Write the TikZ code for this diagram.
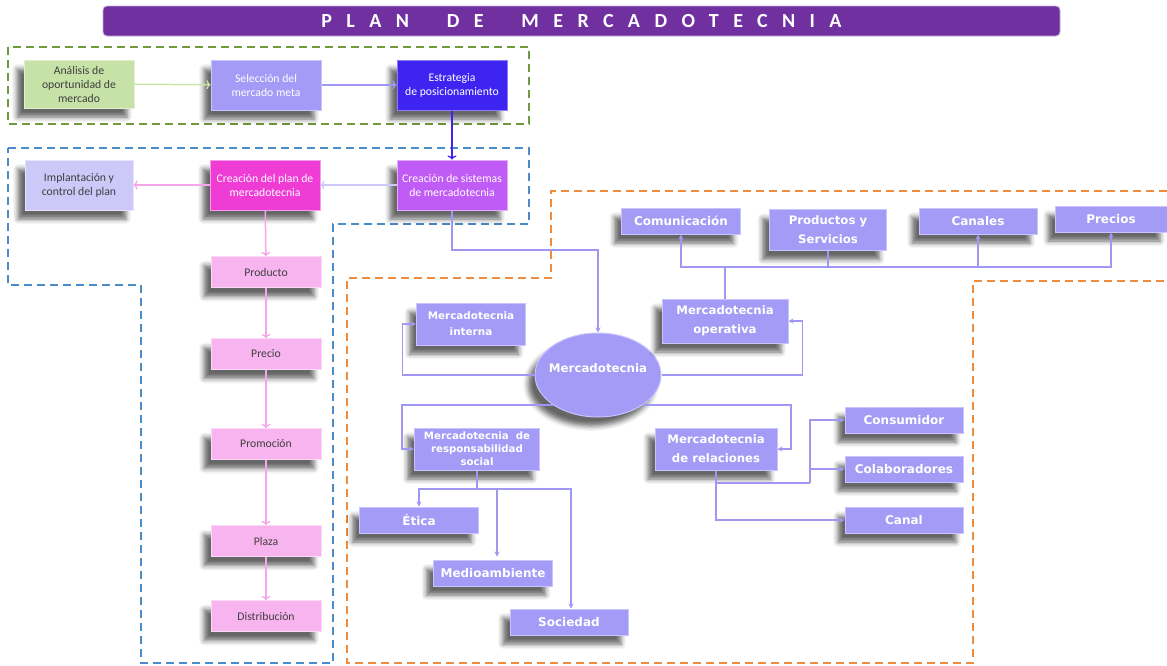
\documentclass[tikz,border=0pt]{standalone}
\usepackage{fontspec}
\setmainfont{Carlito}
\newfontfamily\vfont{DejaVu Sans}
\usetikzlibrary{arrows.meta,shapes.geometric,shadows.blur}

\definecolor{titlebg}{HTML}{7030A0}
\definecolor{lav}{HTML}{A39BF5}
\definecolor{lavedge}{HTML}{C9C3FF}
\definecolor{lavline}{HTML}{A097F2}
\definecolor{greenbox}{HTML}{C6E2A6}
\definecolor{greenline}{HTML}{C8E6A8}
\definecolor{bluebox}{HTML}{3D24F0}
\definecolor{palelav}{HTML}{CCC8F8}
\definecolor{magbox}{HTML}{EE3CD4}
\definecolor{purbox}{HTML}{C05CF5}
\definecolor{pinkbox}{HTML}{F7B4EE}
\definecolor{pinkline}{HTML}{F4A6E8}
\definecolor{txtdark}{HTML}{3F3F3F}
\definecolor{dgreen}{HTML}{6F9A3E}
\definecolor{dblue}{HTML}{4C8BC9}
\definecolor{dorange}{HTML}{F08C3E}

\tikzset{
  shad/.style={blur shadow={shadow xshift=-7pt,shadow yshift=-9pt,shadow blur radius=5pt,shadow opacity=60}},
  lbox/.style={shad, rectangle, minimum width=110pt, minimum height=50pt, align=center,
    font=\fontsize{11.7}{14}\selectfont, inner sep=2pt, line width=1pt},
  pbox/.style={lbox, fill=pinkbox, draw=pinkbox!50!white, text=txtdark, minimum height=31pt},
  rbox/.style={shad, rectangle, fill=lav, draw=lavedge, line width=1pt, text=white, align=center,
    font=\vfont\bfseries\fontsize{12}{15}\selectfont, minimum height=26pt, minimum width=118pt, inner sep=2pt},
  twoline/.style={font=\vfont\bfseries\fontsize{11.7}{19}\selectfont},
  zone/.style={line width=1.8pt, dash pattern=on 8pt off 5pt},
  larr/.style={line width=1.5pt, -{To[length=4pt,width=9pt,line width=1.3pt]}},
  rline/.style={lavline, line width=1.4pt},
  rarr/.style={rline, -{Stealth[length=5pt,width=5pt]}},
}

\begin{document}
\begin{tikzpicture}[x=1pt,y=-1pt]
\useasboundingbox (0,0) rectangle (1167,665);

% title bar
\node[rectangle, rounded corners=4pt, fill=titlebg, draw=titlebg!40!white, line width=0.8pt,
  minimum width=957pt, minimum height=30pt, text=white,
  font=\bfseries\fontsize{20}{22}\selectfont\addfontfeature{LetterSpace=72}] (title) at (581.5,21)
  {PLAN\ \ DE\ \ MERCADOTECNIA};

% dashed zones
\draw[zone, dgreen] (8,47) rectangle (529,124);
\draw[zone, dblue] (8,148) -- (529,148) -- (529,224) -- (333,224) -- (333,663)
  -- (141,663) -- (141,285) -- (8,285) -- cycle;
\draw[zone, dorange] (1167,191) -- (551,191) -- (551,278) -- (347,278) -- (347,663)
  -- (973,663) -- (973,281) -- (1167,281);

% planning sequence
\node[lbox, fill=greenbox, draw=greenbox!50!white, text=txtdark, minimum width=110pt, minimum height=48pt] (ana) at (79,84)
  {Análisis de\\oportunidad de\\mercado};
\node[lbox, fill=lav, draw=lavedge, text=white] (sel) at (266,85) {Selección del\\mercado meta};
\node[lbox, fill=bluebox, draw=bluebox!60!white, text=white] (est) at (452,85) {Estrategia\\de posicionamiento};
\node[lbox, fill=palelav, draw=palelav!50!white, text=txtdark, minimum width=108pt] (imp) at (79,185)
  {Implantación y\\control del plan};
\node[lbox, fill=magbox, draw=magbox!50!white, text=white] (cpl) at (265,185) {Creación del plan de\\mercadotecnia};
\node[lbox, fill=purbox, draw=purbox!50!white, text=white] (csi) at (452,185) {Creación de sistemas\\de mercadotecnia};

\node[pbox] (pro) at (266,272) {Producto};
\node[pbox] (pre) at (266,354) {Precio};
\node[pbox] (prm) at (266,444) {Promoción};
\node[pbox] (pla) at (266,541) {Plaza};
\node[pbox] (dis) at (266,616) {Distribución};

\draw[larr, greenline] (ana) -- (sel);
\draw[larr, lavline] (sel) -- (est);
\draw[larr, bluebox] (est) -- (csi);
\draw[larr, palelav] (csi) -- (cpl);
\draw[larr, pinkline] (cpl) -- (imp);
\draw[larr, pinkline] (cpl) -- (pro);
\draw[larr, pinkline] (pro) -- (pre);
\draw[larr, pinkline] (pre) -- (prm);
\draw[larr, pinkline] (prm) -- (pla);
\draw[larr, pinkline] (pla) -- (dis);

% marketing map
\node[shad, ellipse, fill=lav, draw=lavedge, line width=1pt, minimum width=126pt, minimum height=84pt, inner sep=0pt,
  label={[text=white, font=\vfont\bfseries\fontsize{11.8}{14}\selectfont, yshift=7pt]center:Mercadotecnia}]
  (mkt) at (598,375) {};

\node[rbox, minimum width=109pt, minimum height=42pt, font=\vfont\bfseries\fontsize{10.4}{16}\selectfont] (int) at (471,324)
  {Mercadotecnia\\interna};
\node[rbox, twoline, minimum width=126pt, minimum height=44pt] (ope) at (725,321)
  {Mercadotecnia\\operativa};
\node[rbox, minimum width=119pt] (com) at (681,221) {Comunicación};
\node[rbox, twoline, minimum width=117pt, minimum height=41pt] (pys) at (828,230)
  {Productos y\\Servicios};
\node[rbox] (can) at (978,221) {Canales};
\node[rbox, minimum width=112pt] (prc) at (1111,219) {Precios};

\node[rbox, minimum width=125pt, minimum height=42pt, font=\vfont\bfseries\fontsize{10.2}{13}\selectfont] (rs) at (477,449)
  {Mercadotecnia\ \ de\\responsabilidad\\social};
\node[rbox, twoline, minimum width=122pt, minimum height=42pt] (rel) at (716,449)
  {Mercadotecnia\\de relaciones};
\node[rbox, minimum width=119pt] (eti) at (419,520) {Ética};
\node[rbox, minimum width=119pt] (med) at (493,573) {Medioambiente};
\node[rbox] (soc) at (569,622) {Sociedad};
\node[rbox] (con) at (904,420) {Consumidor};
\node[rbox] (col) at (904,469) {Colaboradores};
\node[rbox] (cnl) at (904,520) {Canal};

% connectors of the map
\coordinate (drop) at (452,250);
\draw[rarr] (csi) -- (drop) -| (mkt);
\draw[rarr] (mkt.west) -- ++(-132,0) |- (int.west);
\draw[rarr] (mkt.east) -- ++(141,0) |- (ope.east);
\draw[rarr] (mkt.south west) -- ++(-151,0) |- (rs.west);
\draw[rarr] (mkt.south east) -- ++(148,0) |- (rel.east);

\coordinate (hub) at (725,267);
\draw[rline] (ope.north) -- (hub);
\draw[rarr] (hub) -| (com.south);
\draw[rline] (pys.south) -- (pys.south |- hub);
\draw[rarr] (hub) -| (can.south);
\draw[rarr] (hub) -| (prc.south);

\coordinate (rsh) at (477,489);
\draw[rline] (rs.south) -- (rsh);
\draw[rarr] (rsh) -| (eti.north);
\draw[rarr, shorten >=3pt] (rsh) -| ([xshift=4pt]med.north);
\draw[rarr] (rsh) -| ([xshift=2pt]soc.north);

\coordinate (relh) at (810,483);
\draw[rline] (rel.south) |- (relh);
\draw[rarr] (relh) |- (con.west);
\draw[rarr] (relh) |- (col.west);
\draw[rarr] (rel.south) |- (cnl.west);
\end{tikzpicture}
\end{document}
